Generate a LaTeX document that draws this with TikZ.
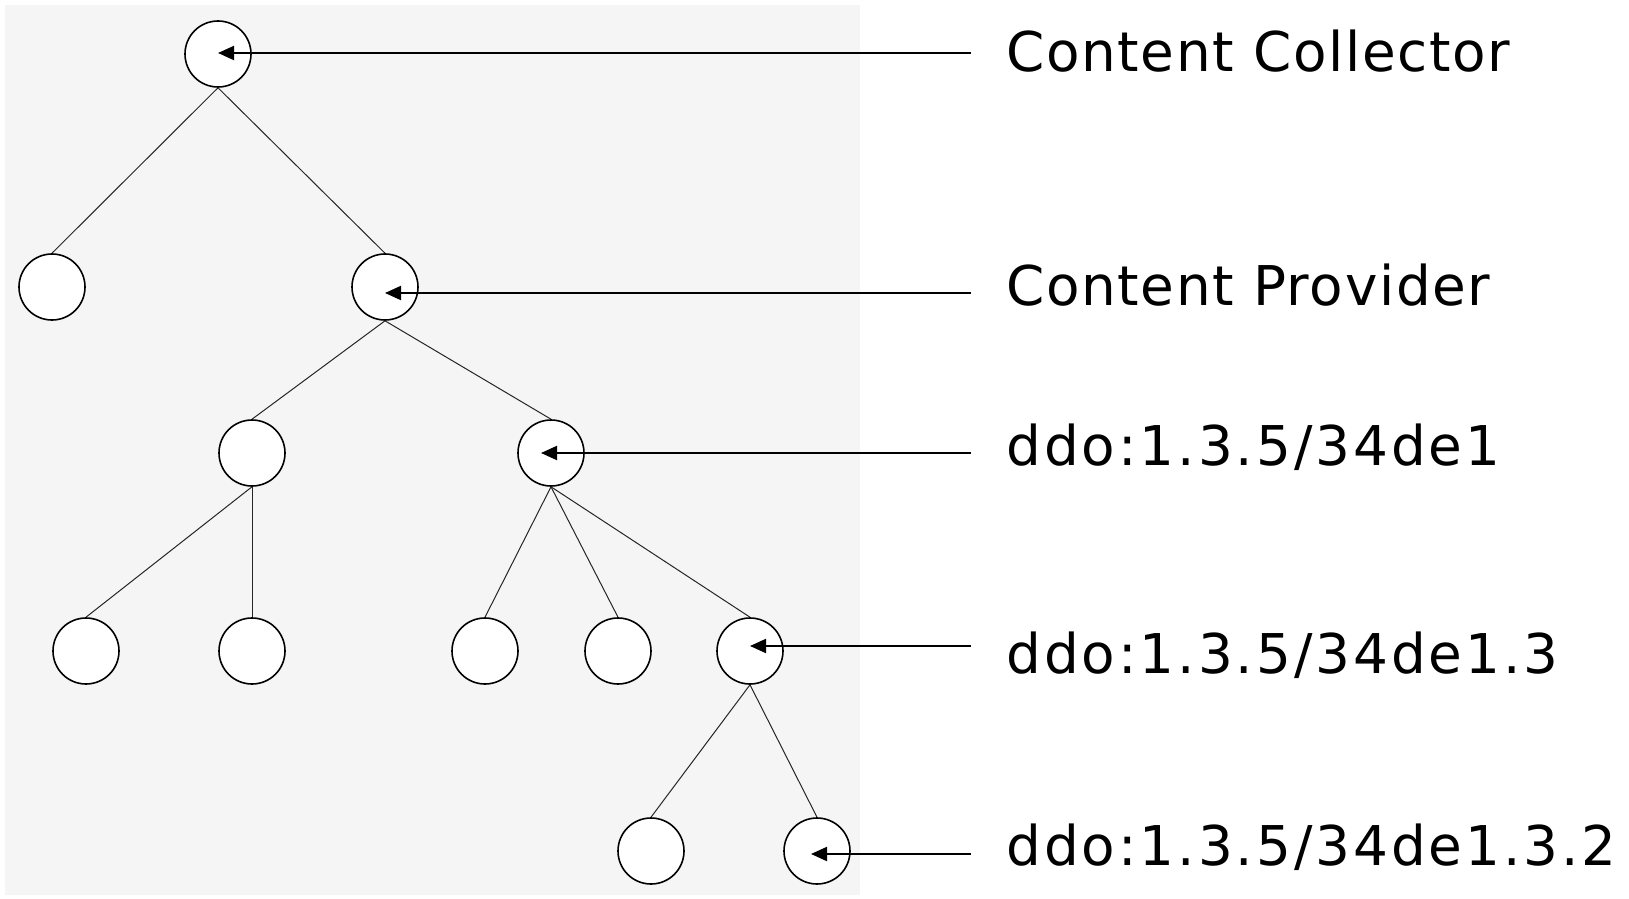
\documentclass[tikz,border=0pt]{standalone}
\usepackage{fontspec}
\setmainfont{DejaVu Sans}
\newfontfamily\labelfont[LetterSpace=3]{DejaVu Sans}
\newfontfamily\idfont[LetterSpace=5.4]{DejaVu Sans}
\usetikzlibrary{arrows.meta}

\begin{document}
\begin{tikzpicture}[x=0.5pt,y=-0.5pt,
	tree node/.style={circle,draw,fill=white,minimum size=33pt,inner sep=0pt,line width=0.8pt},
	branch/.style={draw=black!85,line width=0.5pt},
	pointer/.style={-{Triangle[length=8pt,width=7pt]},line width=1pt},
	tag/.style={anchor=base west,inner sep=0pt,font=\labelfont\fontsize{27.4}{32}\selectfont},
	id tag/.style={tag,font=\idfont\fontsize{27.4}{32}\selectfont}]
	
	\useasboundingbox (0,0) rectangle (1629,899);
	\fill[black!4] (5,5) rectangle (860,895);
	
	% the tree
	\node[tree node] (cc)   at (218,54)  {};
	\node[tree node] (n1)   at (52,287)  {};
	\node[tree node] (cp)   at (385,287) {};
	\node[tree node] (n2)   at (252,453) {};
	\node[tree node] (d1)   at (551,453) {};
	\node[tree node] (n3a)  at (86,651)  {};
	\node[tree node] (n3b)  at (252,651) {};
	\node[tree node] (n3c)  at (485,651) {};
	\node[tree node] (n3d)  at (618,651) {};
	\node[tree node] (d13)  at (750,651) {};
	\node[tree node] (n4)   at (651,851) {};
	\node[tree node] (d132) at (817,851) {};
	
	\path[branch]
	(cc.south) edge (n1.north)
	(cc.south) edge (cp.north)
	(cp.south) edge (n2.north)
	(cp.south) edge (d1.north)
	(n2.south) edge (n3a.north)
	(n2.south) edge (n3b.north)
	(d1.south) edge (n3c.north)
	(d1.south) edge (n3d.north)
	(d1.south) edge (d13.north)
	(d13.south) edge (n4.north)
	(d13.south) edge (d132.north);
	
	% labels and pointers
	\coordinate (pcc)   at (971,53);
	\coordinate (pcp)   at (971,293);
	\coordinate (pd1)   at (971,453);
	\coordinate (pd13)  at (971,646);
	\coordinate (pd132) at (971,854);
	
	\node[tag]    (tcc)   at (1006,72)  {Content Collector};
	\node[tag]    (tcp)   at (1006,305) {Content Provider};
	\node[id tag] (td1)   at (1006,465) {ddo:1.3.5/34de1};
	\node[id tag] (td13)  at (1006,673) {ddo:1.3.5/34de1.3};
	\node[id tag] (td132) at (1006,865) {ddo:1.3.5/34de1.3.2};
	
	\draw[pointer] (pcc)   -- (pcc -| cc.center);
	\draw[pointer] (pcp)   -- (pcp -| cp.center);
	\draw[pointer] (pd1)   -- ([xshift=-5]pd1 -| d1.center);
	\draw[pointer] (pd13)  -- (pd13 -| d13.center);
	\draw[pointer] (pd132) -- ([xshift=-3]pd132 -| d132.center);
	
\end{tikzpicture}
\end{document}
